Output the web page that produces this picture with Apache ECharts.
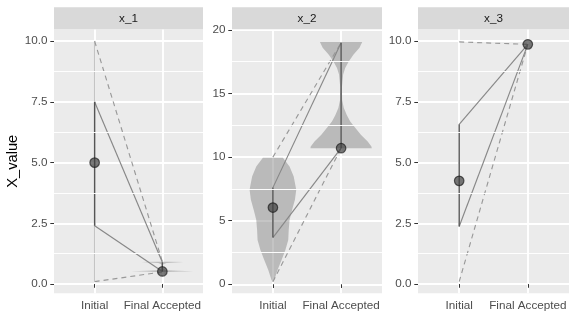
<!DOCTYPE html>
<html>
<head>
<meta charset="utf-8">
<script src="https://cdn.jsdelivr.net/npm/echarts@6/dist/echarts.min.js"></script>
<style>
  html, body { margin: 0; padding: 0; background: #ffffff; }
  #chart { width: 576px; height: 336px; }
</style>
</head>
<body>
<div id="chart"></div>
<script>
// Facet names and the two stages on the x axis
const panels = ['x_1', 'x_2', 'x_3'];
const stages = ['Initial', 'Final Accepted'];
const stagePos = [1, 2];

// Summary statistics per facet: [Initial, Final Accepted]
const minVals    = [[0.10, 0.50], [0.20, 10.70], [0.10, 9.87]];
const lowerVals  = [[2.40, 0.52], [3.67, 10.70], [2.37, 9.87]];
const medianVals = [[5.00, 0.52], [6.03, 10.70], [4.25, 9.87]];
const upperVals  = [[7.50, 0.90], [7.60, 19.00], [6.58, 9.87]];
const maxVals    = [[10.00, 0.92], [10.00, 19.00], [9.97, 9.87]];

// Violin outlines: y values and half-widths (in stage units)
const x1InitialY = [0.10, 10.00];
const x1InitialW = [0.01, 0.01];
const x1FinalY = [0.50, 0.515, 0.53, 0.545, 0.57, 0.62, 0.72, 0.82, 0.87, 0.89, 0.905, 0.92];
const x1FinalW = [0.06, 0.25, 0.455, 0.22, 0.06, 0.015, 0.008, 0.015, 0.06, 0.18, 0.31, 0.08];
const x2InitialY = [0.20, 0.34, 1.13, 1.91, 2.70, 3.49, 4.28, 5.06, 5.85, 6.64, 7.43, 8.47, 9.26, 9.95];
const x2InitialW = [0.005, 0.02, 0.068, 0.127, 0.183, 0.225, 0.232, 0.244, 0.281, 0.323, 0.342, 0.305, 0.244, 0.147];
const x2FinalY = [10.70, 10.83, 11.23, 11.76, 12.28, 12.80, 13.30, 13.86, 14.50, 15.50, 16.50, 17.00, 17.50, 18.05, 18.60, 19.05];
const x2FinalW = [0.45, 0.445, 0.39, 0.29, 0.21, 0.134, 0.085, 0.04, 0.015, 0.012, 0.03, 0.06, 0.11, 0.18, 0.27, 0.31];

// Y axis ticks per facet
const yTicks = [[0, 2.5, 5, 7.5, 10], [0, 5, 10, 15, 20], [0, 2.5, 5, 7.5, 10]];
const yTickLabels = [['0.0', '2.5', '5.0', '7.5', '10.0'], ['0', '5', '10', '15', '20'], ['0.0', '2.5', '5.0', '7.5', '10.0']];
const yMinor = [[1.25, 3.75, 6.25, 8.75], [2.5, 7.5, 12.5, 17.5], [1.25, 3.75, 6.25, 8.75]];
const yRange = [[-0.38, 10.49], [-0.71, 20.05], [-0.38, 10.49]];

// Panel geometry (pixels)
const panelTop = 29.3;
const panelHeight = 264;
const stripTop = 7.3;
const stripHeight = 22;
const panelLeft = [54, 232, 418];
const panelWidth = [149, 150, 151];

const axisTextColor = '#4d4d4d';
const fontFamily = '"Liberation Sans", Arial, Helvetica, sans-serif';
const labelSize = 11.7;

const grids = [], xAxes = [], yAxes = [], series = [], graphics = [];

function violin(gi, xPos, ys, ws) {
  return {
    type: 'custom', xAxisIndex: gi, yAxisIndex: gi, z: 2, silent: true,
    data: [[xPos, ys[0]]],
    renderItem: function (params, api) {
      const left = ys.map((y, k) => api.coord([xPos - ws[k], y]));
      const right = ys.map((y, k) => api.coord([xPos + ws[k], y])).reverse();
      return {
        type: 'polygon',
        shape: { points: left.concat(right) },
        style: { fill: 'rgba(127,127,127,0.45)', stroke: null }
      };
    }
  };
}

function segment(gi, pts, color, width, dashed, z) {
  return {
    type: 'line', xAxisIndex: gi, yAxisIndex: gi, data: pts,
    symbol: 'none', silent: true, z: z || 3,
    lineStyle: { color: color, width: width, type: dashed ? [5, 4] : 'solid' }
  };
}

panels.forEach((name, gi) => {
  grids.push({ left: panelLeft[gi], top: panelTop, width: panelWidth[gi], height: panelHeight,
               show: true, backgroundColor: '#ebebeb', borderWidth: 0 });

  xAxes.push({
    type: 'value', gridIndex: gi, min: 0.4, max: 2.6,
    axisLine: { show: false },
    axisTick: { show: true, customValues: stagePos, length: 3.7, lineStyle: { color: '#333333', width: 1 } },
    axisLabel: { show: true, customValues: stagePos, margin: 6.4, color: axisTextColor,
                 fontSize: labelSize, fontFamily: fontFamily,
                 formatter: v => stages[stagePos.indexOf(v)] || '' },
    splitLine: { show: true, lineStyle: { color: '#ffffff', width: 1.9 } }
  });

  yAxes.push({
    type: 'value', gridIndex: gi, min: yRange[gi][0], max: yRange[gi][1],
    axisLine: { show: false },
    axisTick: { show: true, customValues: yTicks[gi], length: 3.7, lineStyle: { color: '#333333', width: 1 } },
    axisLabel: { show: true, customValues: yTicks[gi], margin: 6.4, color: axisTextColor,
                 fontSize: labelSize, fontFamily: fontFamily,
                 formatter: v => yTickLabels[gi][yTicks[gi].indexOf(v)] },
    splitLine: { show: true, lineStyle: { color: '#ffffff', width: 1.9 } }
  });

  // minor horizontal grid lines
  series.push({
    type: 'line', xAxisIndex: gi, yAxisIndex: gi, data: [], silent: true, z: 1,
    markLine: {
      silent: true, symbol: 'none', animation: false,
      label: { show: false },
      lineStyle: { color: '#ffffff', width: 0.95, type: 'solid' },
      data: yMinor[gi].map(v => ({ yAxis: v }))
    }
  });

  // facet strip
  graphics.push({
    type: 'rect', left: panelLeft[gi], top: stripTop, z: 10,
    shape: { width: panelWidth[gi], height: stripHeight },
    style: { fill: '#d9d9d9', opacity: 1 }, silent: true
  });
  graphics.push({
    type: 'text', x: panelLeft[gi] + panelWidth[gi] / 2, y: stripTop + stripHeight / 2, z: 11,
    style: { text: name, fill: '#1a1a1a', font: labelSize + 'px ' + fontFamily,
             align: 'center', verticalAlign: 'middle' }, silent: true
  });
});

// violins
series.push(violin(0, 1, x1InitialY, x1InitialW));
series.push(violin(0, 2, x1FinalY, x1FinalW));
series.push(violin(1, 1, x2InitialY, x2InitialW));
series.push(violin(1, 2, x2FinalY, x2FinalW));

panels.forEach((name, gi) => {
  const xy = arr => stagePos.map((p, k) => [p, arr[gi][k]]);
  // full range (dashed) and inner range (solid) connections
  series.push(segment(gi, xy(maxVals), '#999999', 1.15, true));
  series.push(segment(gi, xy(minVals), '#999999', 1.15, true));
  series.push(segment(gi, xy(upperVals), '#878787', 1.15, false));
  series.push(segment(gi, xy(lowerVals), '#878787', 1.15, false));
  // inner range at each stage
  stagePos.forEach((p, k) => {
    series.push(segment(gi, [[p, lowerVals[gi][k]], [p, upperVals[gi][k]]], '#555555', 1.4, false, 4));
  });
  // medians
  series.push({
    type: 'scatter', xAxisIndex: gi, yAxisIndex: gi, data: xy(medianVals),
    symbol: 'circle', symbolSize: 9.5, silent: true, z: 5,
    itemStyle: { color: 'rgba(60,60,60,0.85)', borderColor: 'rgba(25,25,25,0.85)', borderWidth: 1.2 }
  });
});

// y axis title
graphics.push({
  type: 'text', x: 13, y: panelTop + panelHeight / 2, rotation: Math.PI / 2,
  style: { text: 'X_value', fill: '#000000', font: '14.7px ' + fontFamily,
           align: 'center', verticalAlign: 'middle' }, silent: true
});

const chart = echarts.init(document.getElementById('chart'), null, { renderer: 'canvas' });
chart.setOption({
  animation: false,
  backgroundColor: '#ffffff',
  grid: grids,
  xAxis: xAxes,
  yAxis: yAxes,
  series: series,
  graphic: graphics
});
</script>
</body>
</html>
